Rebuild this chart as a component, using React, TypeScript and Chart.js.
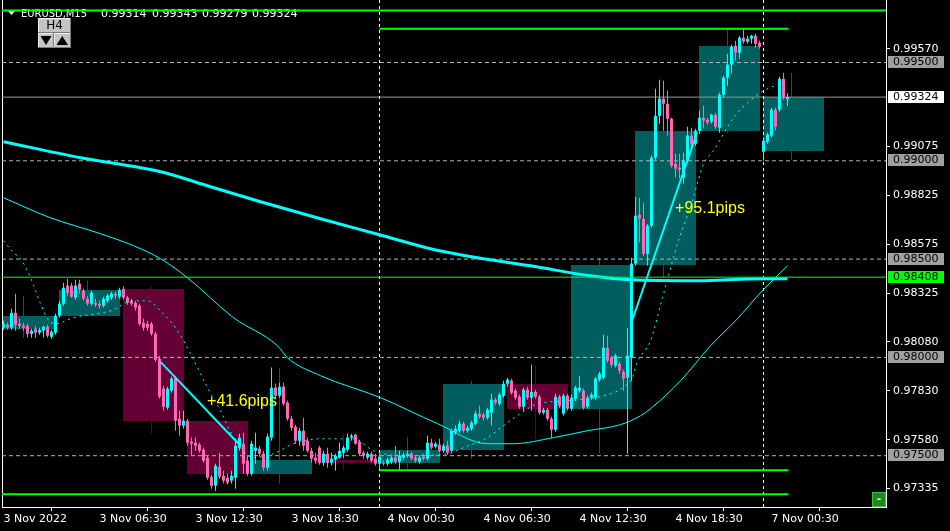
import React, { useEffect, useRef } from 'react';
import { Chart, registerables } from 'chart.js';

Chart.register(...registerables);

// ---------------- data ----------------
const titleSymbol = 'EURUSD,M15';
const titleOHLC = ['0.99314', '0.99343', '0.99279', '0.99324'];

const opens = [
  0.98151,0.98166,0.98151,0.98227,0.98171,0.98161,0.98161,0.98120,0.98146,0.98126,
  0.98136,0.98156,0.98105,0.98126,0.98212,0.98273,0.98365,0.98365,0.98304,0.98375,
  0.98339,0.98298,0.98273,0.98278,0.98273,0.98263,0.98288,0.98304,0.98324,0.98309,
  0.98349,0.98304,0.98288,0.98278,0.98263,0.98176,0.98171,0.98171,0.98120,0.97993,
  0.97841,0.97744,0.97831,0.97897,0.97688,0.97653,0.97678,0.97571,0.97566,0.97556,
  0.97531,0.97490,0.97393,0.97347,0.97444,0.97398,0.97388,0.97373,0.97388,0.97541,
  0.97561,0.97475,0.97408,0.97525,0.97536,0.97510,0.97439,0.97592,0.97846,0.97805,
  0.97851,0.97770,0.97688,0.97647,0.97576,0.97627,0.97576,0.97525,0.97490,0.97541,
  0.97464,0.97510,0.97464,0.97480,0.97490,0.97515,0.97531,0.97592,0.97607,0.97571,
  0.97515,0.97490,0.97510,0.97485,0.97459,0.97464,0.97459,0.97469,0.97490,0.97469,
  0.97490,0.97500,0.97510,0.97490,0.97469,0.97495,0.97485,0.97566,0.97546,0.97556,
  0.97525,0.97551,0.97525,0.97617,0.97627,0.97663,0.97627,0.97637,0.97663,0.97714,
  0.97709,0.97693,0.97719,0.97785,0.97764,0.97805,0.97866,0.97881,0.97831,0.97800,
  0.97749,0.97836,0.97795,0.97825,0.97800,0.97719,0.97734,0.97688,0.97632,0.97800,
  0.97714,0.97805,0.97739,0.97790,0.97831,0.97831,0.97749,0.97795,0.97795,0.97887,
  0.97897,0.98049,0.97998,0.97958,0.97968,0.97927,0.97897,0.97998,0.98477,0.98726,
  0.98705,0.98527,0.98670,0.99016,0.99229,0.99316,0.99290,0.99214,0.98985,0.98965,
  0.98914,0.99000,0.99128,0.99087,0.99153,0.99219,0.99209,0.99199,0.99234,0.99168,
  0.99336,0.99423,0.99489,0.99585,0.99550,0.99626,0.99606,0.99621,0.99636,0.99601,
  0.99046,0.99097,0.99128,0.99260,0.99260,0.99417,0.99314,
];
const highs = [
  0.98187,0.98176,0.98248,0.98324,0.98197,0.98176,0.98171,0.98146,0.98161,0.98151,
  0.98161,0.98166,0.98141,0.98222,0.98288,0.98380,0.98400,0.98380,0.98395,0.98395,
  0.98349,0.98314,0.98339,0.98298,0.98288,0.98309,0.98324,0.98334,0.98334,0.98354,
  0.98360,0.98314,0.98298,0.98288,0.98273,0.98197,0.98187,0.98181,0.98131,0.98009,
  0.97856,0.97851,0.97902,0.97907,0.97729,0.97729,0.97688,0.97592,0.97592,0.97566,
  0.97541,0.97500,0.97403,0.97459,0.97515,0.97424,0.97408,0.97424,0.97586,0.97612,
  0.97617,0.97500,0.97576,0.97617,0.97551,0.97525,0.97612,0.97948,0.97866,0.97871,
  0.97871,0.97780,0.97703,0.97658,0.97642,0.97693,0.97592,0.97541,0.97515,0.97551,
  0.97525,0.97541,0.97515,0.97510,0.97566,0.97551,0.97612,0.97612,0.97612,0.97581,
  0.97525,0.97520,0.97520,0.97510,0.97510,0.97475,0.97490,0.97500,0.97551,0.97525,
  0.97515,0.97525,0.97520,0.97500,0.97500,0.97510,0.97602,0.97586,0.97571,0.97586,
  0.97561,0.97576,0.97637,0.97653,0.97678,0.97673,0.97653,0.97678,0.97729,0.97754,
  0.97719,0.97744,0.97815,0.97795,0.97820,0.97881,0.97897,0.97892,0.97841,0.97810,
  0.97846,0.97851,0.97963,0.97836,0.97810,0.97744,0.97744,0.97698,0.97815,0.97810,
  0.97815,0.97815,0.97810,0.97856,0.97907,0.97841,0.97805,0.97820,0.97902,0.97927,
  0.98115,0.98110,0.98009,0.98019,0.97978,0.97937,0.98151,0.98507,0.98817,0.98812,
  0.98787,0.98680,0.99026,0.99367,0.99412,0.99407,0.99356,0.99219,0.99036,0.99036,
  0.99041,0.99173,0.99168,0.99163,0.99255,0.99280,0.99219,0.99239,0.99245,0.99346,
  0.99433,0.99545,0.99590,0.99611,0.99636,0.99672,0.99636,0.99641,0.99646,0.99611,
  0.99112,0.99143,0.99270,0.99270,0.99428,0.99448,0.99343,
];
const lows = [
  0.98141,0.98141,0.98141,0.98136,0.98146,0.98136,0.98100,0.98100,0.98100,0.98115,
  0.98100,0.98100,0.98095,0.98115,0.98202,0.98263,0.98314,0.98304,0.98293,0.98324,
  0.98288,0.98263,0.98263,0.98258,0.98248,0.98253,0.98278,0.98293,0.98298,0.98298,
  0.98293,0.98268,0.98263,0.98237,0.98161,0.98136,0.98136,0.98110,0.97978,0.97790,
  0.97729,0.97734,0.97820,0.97627,0.97602,0.97637,0.97551,0.97500,0.97525,0.97515,
  0.97464,0.97378,0.97332,0.97322,0.97383,0.97358,0.97352,0.97358,0.97332,0.97525,
  0.97408,0.97398,0.97398,0.97459,0.97495,0.97424,0.97424,0.97576,0.97790,0.97795,
  0.97754,0.97678,0.97627,0.97561,0.97551,0.97525,0.97515,0.97464,0.97459,0.97454,
  0.97449,0.97439,0.97449,0.97424,0.97485,0.97490,0.97520,0.97576,0.97556,0.97500,
  0.97485,0.97480,0.97464,0.97449,0.97434,0.97449,0.97449,0.97459,0.97459,0.97429,
  0.97480,0.97490,0.97475,0.97464,0.97459,0.97475,0.97475,0.97531,0.97536,0.97515,
  0.97515,0.97505,0.97515,0.97607,0.97617,0.97617,0.97617,0.97627,0.97653,0.97688,
  0.97678,0.97683,0.97653,0.97759,0.97754,0.97795,0.97851,0.97810,0.97785,0.97739,
  0.97729,0.97785,0.97729,0.97790,0.97709,0.97709,0.97678,0.97592,0.97622,0.97744,
  0.97703,0.97729,0.97729,0.97780,0.97820,0.97734,0.97739,0.97785,0.97785,0.97876,
  0.97887,0.97973,0.97948,0.97948,0.97917,0.97831,0.97510,0.97881,0.98466,0.98583,
  0.98517,0.98466,0.98660,0.99005,0.99189,0.99153,0.99128,0.98965,0.98914,0.98909,
  0.98883,0.98990,0.99067,0.99077,0.99138,0.99168,0.99183,0.99189,0.99163,0.99143,
  0.99321,0.99382,0.99443,0.99509,0.99519,0.99595,0.99595,0.99595,0.99575,0.99570,
  0.99000,0.99087,0.99117,0.99153,0.99250,0.99311,0.99279,
];
const closes = [
  0.98171,0.98151,0.98227,0.98166,0.98161,0.98151,0.98120,0.98136,0.98126,0.98141,
  0.98156,0.98110,0.98131,0.98212,0.98273,0.98354,0.98329,0.98309,0.98365,0.98344,
  0.98298,0.98273,0.98329,0.98268,0.98263,0.98298,0.98314,0.98324,0.98314,0.98344,
  0.98304,0.98278,0.98273,0.98253,0.98171,0.98151,0.98151,0.98120,0.97988,0.97800,
  0.97749,0.97841,0.97892,0.97678,0.97653,0.97678,0.97566,0.97561,0.97551,0.97525,
  0.97475,0.97388,0.97347,0.97449,0.97393,0.97373,0.97363,0.97398,0.97551,0.97592,
  0.97459,0.97408,0.97561,0.97541,0.97510,0.97439,0.97597,0.97846,0.97805,0.97851,
  0.97764,0.97688,0.97642,0.97576,0.97627,0.97551,0.97525,0.97485,0.97475,0.97464,
  0.97510,0.97464,0.97485,0.97500,0.97525,0.97541,0.97592,0.97602,0.97561,0.97510,
  0.97500,0.97510,0.97475,0.97459,0.97495,0.97459,0.97480,0.97490,0.97469,0.97500,
  0.97505,0.97510,0.97485,0.97475,0.97490,0.97485,0.97566,0.97541,0.97561,0.97525,
  0.97551,0.97515,0.97627,0.97637,0.97663,0.97627,0.97642,0.97668,0.97714,0.97698,
  0.97693,0.97734,0.97785,0.97770,0.97810,0.97866,0.97887,0.97820,0.97795,0.97749,
  0.97836,0.97795,0.97825,0.97800,0.97719,0.97734,0.97688,0.97632,0.97800,0.97754,
  0.97805,0.97739,0.97795,0.97846,0.97846,0.97744,0.97795,0.97810,0.97892,0.97917,
  0.98049,0.97983,0.97963,0.98009,0.97932,0.97892,0.98009,0.98477,0.98721,0.98705,
  0.98527,0.98670,0.99016,0.99229,0.99316,0.99290,0.99214,0.98975,0.98960,0.98955,
  0.99000,0.99128,0.99087,0.99153,0.99219,0.99204,0.99194,0.99234,0.99173,0.99336,
  0.99423,0.99489,0.99580,0.99550,0.99626,0.99606,0.99621,0.99636,0.99595,0.99580,
  0.99102,0.99133,0.99260,0.99173,0.99417,0.99321,0.99324,
];

const timeTickBars = [0, 24, 48, 72, 96, 120, 144, 168, 192];
const timeTickLabels = ['3 Nov 2022', '3 Nov 06:30', '3 Nov 12:30', '3 Nov 18:30', '4 Nov 00:30', '4 Nov 06:30', '4 Nov 12:30', '4 Nov 18:30', '7 Nov 00:30'];
const priceTicks = [0.9957, 0.99075, 0.98825, 0.98575, 0.98325, 0.9808, 0.9783, 0.9758, 0.97335];

const roundLevels = [0.995, 0.99, 0.985, 0.98, 0.975];
const bidPrice = 0.99324;
const keyLevel = 0.98408;
const daySeparatorBars = [94, 190];

const h4StartBars = [0, 14, 30, 46, 62, 78, 94, 110, 126, 142, 158, 174, 190];
const h4EndBars = [13, 29, 45, 61, 77, 93, 109, 125, 141, 157, 173, 189, 205];
const h4WickBars = [5, 21, 37, 53, 69, 85, 101, 117, 133, 149, 165, 181, 197];
const h4Open = [0.98146, 0.98212, 0.98349, 0.97678, 0.97408, 0.9748, 0.97464, 0.97531, 0.97866, 0.97739, 0.98471, 0.99153, 0.99051];
const h4Close = [0.98212, 0.98344, 0.97678, 0.97408, 0.9748, 0.97464, 0.97531, 0.97866, 0.97739, 0.98471, 0.99153, 0.99585, 0.99324];
const h4High = [0.98314, 0.9839, 0.9836, 0.97688, 0.97948, 0.97612, 0.97597, 0.97881, 0.97958, 0.98507, 0.99407, 0.99672, 0.99448];
const h4Low = [0.981, 0.98212, 0.97612, 0.97312, 0.97358, 0.97424, 0.97434, 0.97485, 0.97586, 0.9751, 0.98405, 0.99143, 0.99005];

const maSlowBars = [0, 19.25, 39.25, 51.75, 64.25, 79.25, 94, 106.75, 118.5, 131.75, 146.75, 156.75, 174.25, 184.25, 196];
const maSlowVals = [0.99097, 0.99016, 0.98944, 0.98868, 0.98792, 0.98705, 0.98624, 0.98553, 0.98507, 0.98466, 0.98415, 0.98395, 0.9839, 0.98398, 0.984];

const maMidBars = [0, 11.75, 24.25, 32.5, 39.25, 46, 57.5, 68.5, 71, 79.25, 94.25, 108.5, 121, 127.5, 137.5, 146, 154.25, 159.25, 161.75, 169.25, 176.75, 183.5, 189.25, 196];
const maMidVals = [0.98812, 0.9871, 0.98629, 0.98568, 0.98502, 0.98405, 0.98202, 0.98059, 0.97998, 0.97907, 0.97795, 0.97663, 0.97561, 0.97561, 0.97592, 0.97627, 0.97658, 0.97703, 0.97739, 0.97881, 0.98059, 0.98197, 0.98329, 0.98466];

const maFastBars = [0, 2.5, 4.25, 6.75, 9.25, 11, 13, 17.5, 26.75, 32.5, 36, 39.25, 43.5, 46.75, 51, 54.25, 57.5, 62.5, 67.5, 72.5, 79.25, 87.5, 92.5, 100, 111, 115, 121, 124.25, 129.25, 133.5, 141.75, 152.5, 155.5, 157.25, 158.25, 161.75, 164.75, 168.75, 172.25, 175, 177.5, 182.5, 187.5, 190, 194.75];
const maFastVals = [0.98594, 0.98532, 0.98502, 0.98405, 0.98273, 0.98197, 0.98171, 0.98202, 0.98237, 0.98288, 0.98288, 0.98237, 0.98136, 0.98019, 0.97846, 0.97729, 0.97592, 0.9749, 0.9751, 0.97561, 0.97586, 0.97586, 0.97525, 0.975, 0.9751, 0.97541, 0.97592, 0.97642, 0.97714, 0.97764, 0.9778, 0.9782, 0.97856, 0.97897, 0.97968, 0.98085, 0.98304, 0.98594, 0.98798, 0.98985, 0.99051, 0.99219, 0.99321, 0.99356, 0.99397];

const pipFromBars = [39.25, 157.25];
const pipFromVals = [0.97977, 0.98193];
const pipToBars = [58.75, 173.4];
const pipToVals = [0.97561, 0.99144];
const pipLabels = ['+41.6pips', '+95.1pips'];
const pipLabelBars = [50.9, 167.9];
const pipLabelVals = [0.97751, 0.98732];

const greenLevels = [0.99765, 0.99672, 0.97426, 0.97304];
const greenFromBars = [-0.375, 94, 94, -0.375];
const greenToBars = [220.625, 196.25, 196.25, 196.25];

// ---------------- styling / layout ----------------
const CYAN = '#00FFFF';
const PINK = '#FF69B4';
const TEAL = '#005E5E';
const MAROON = '#640034';
const LIME = '#00FF00';
const FONT = '"DejaVu Sans", "Liberation Sans", sans-serif';
const PX_PER_UNIT = 19660;
const X_MIN = -0.375;
const X_MAX = 220.625;
const Y_MAX = 0.995 + 62.5 / PX_PER_UNIT;
const Y_MIN = Y_MAX - 507 / PX_PER_UNIT;

const candleColors = opens.map((o, i) => (closes[i] >= o ? CYAN : PINK));

const hLine = (price: number, from: number, to: number, color: string, width: number, dash: number[], order: number) => ({
  type: 'line',
  data: [{ x: from, y: price }, { x: to, y: price }],
  borderColor: color,
  borderWidth: width,
  borderDash: dash,
  pointRadius: 0,
  tension: 0,
  order,
});

const seriesLine = (bars: number[], vals: number[], color: string, width: number, dash: number[], order: number) => ({
  type: 'line',
  data: bars.map((b, i) => ({ x: b, y: vals[i] })),
  borderColor: color,
  borderWidth: width,
  borderDash: dash,
  pointRadius: 0,
  cubicInterpolationMode: 'monotone',
  order,
});

const overlayPlugin = {
  id: 'mtOverlay',
  beforeDatasetsDraw(chart: any) {
    const { ctx, chartArea: a, scales } = chart;
    const x = scales.x;
    const y = scales.y;
    ctx.save();
    ctx.strokeStyle = '#FFFFFF';
    ctx.lineWidth = 1;
    ctx.beginPath();
    ctx.moveTo(a.left + 0.5, a.top);
    ctx.lineTo(a.left + 0.5, a.bottom);
    ctx.stroke();
    ctx.beginPath();
    ctx.rect(a.left + 1, a.top, a.width - 1, a.height);
    ctx.clip();
    for (let k = 0; k < h4Open.length; k++) {
      const bull = h4Close[k] >= h4Open[k];
      const col = bull ? TEAL : MAROON;
      const wx = Math.floor(x.getPixelForValue(h4WickBars[k])) + 0.5;
      ctx.strokeStyle = col;
      ctx.lineWidth = 1;
      ctx.beginPath();
      ctx.moveTo(wx, y.getPixelForValue(h4High[k]));
      ctx.lineTo(wx, y.getPixelForValue(h4Low[k]));
      ctx.stroke();
      const x0 = Math.floor(x.getPixelForValue(h4StartBars[k]));
      const x1 = Math.floor(x.getPixelForValue(h4EndBars[k])) + 1;
      const yt = Math.round(y.getPixelForValue(Math.max(h4Open[k], h4Close[k])));
      const yb = Math.round(y.getPixelForValue(Math.min(h4Open[k], h4Close[k])));
      ctx.fillStyle = col;
      ctx.fillRect(x0, yt, x1 - x0, Math.max(1, yb - yt));
    }
    ctx.restore();

    // title line
    ctx.save();
    ctx.fillStyle = '#FFFFFF';
    ctx.beginPath();
    ctx.moveTo(8, 11);
    ctx.lineTo(15, 11);
    ctx.lineTo(11.5, 15);
    ctx.closePath();
    ctx.fill();
    ctx.font = '11px ' + FONT;
    ctx.textAlign = 'left';
    ctx.textBaseline = 'alphabetic';
    ctx.fillText(titleSymbol, 21, 17, 66);
    const ox = [101, 152, 202, 252];
    titleOHLC.forEach((t, i) => ctx.fillText(t, ox[i], 17));
    ctx.restore();
  },
  afterDatasetsDraw(chart: any) {
    const { ctx, scales } = chart;
    ctx.save();
    ctx.fillStyle = '#FFFF00';
    ctx.font = '16px "Liberation Sans", Arial, sans-serif';
    ctx.textAlign = 'left';
    ctx.textBaseline = 'alphabetic';
    pipLabels.forEach((t, i) => {
      ctx.fillText(t, scales.x.getPixelForValue(pipLabelBars[i]), scales.y.getPixelForValue(pipLabelVals[i]));
    });
    ctx.restore();
  },
  afterDraw(chart: any) {
    const { ctx, chartArea: a, scales } = chart;
    const y = scales.y;
    const box = (price: number, bg: string, fg: string) => {
      const py = Math.floor(y.getPixelForValue(price));
      ctx.fillStyle = bg;
      ctx.fillRect(a.right + 2, py - 6, 56, 12);
      ctx.fillStyle = fg;
      ctx.font = '11px ' + FONT;
      ctx.textAlign = 'left';
      ctx.textBaseline = 'middle';
      ctx.fillText(price.toFixed(5), a.right + 7, py + 0.5);
    };
    ctx.save();
    roundLevels.forEach((p) => box(p, '#A0A0A0', '#000000'));
    box(bidPrice, '#FFFFFF', '#000000');
    box(keyLevel, LIME, '#000000');

    // H4 button
    const bevel = (x0: number, y0: number, w: number, h: number) => {
      ctx.fillStyle = '#C4C4C4';
      ctx.fillRect(x0, y0, w, h);
      ctx.strokeStyle = '#F0F0F0';
      ctx.lineWidth = 1;
      ctx.beginPath();
      ctx.moveTo(x0 + 0.5, y0 + h);
      ctx.lineTo(x0 + 0.5, y0 + 0.5);
      ctx.lineTo(x0 + w, y0 + 0.5);
      ctx.stroke();
      ctx.strokeStyle = '#7A7A7A';
      ctx.beginPath();
      ctx.moveTo(x0 + w - 0.5, y0);
      ctx.lineTo(x0 + w - 0.5, y0 + h - 0.5);
      ctx.lineTo(x0, y0 + h - 0.5);
      ctx.stroke();
    };
    bevel(38, 18, 33, 15);
    ctx.fillStyle = '#000000';
    ctx.font = '12px ' + FONT;
    ctx.textAlign = 'center';
    ctx.textBaseline = 'middle';
    ctx.fillText('H4', 54.5, 25.5);
    bevel(38, 33, 16, 15);
    bevel(54, 33, 17, 15);
    ctx.fillStyle = '#000000';
    ctx.beginPath();
    ctx.moveTo(40.5, 36);
    ctx.lineTo(51.5, 36);
    ctx.lineTo(46, 45);
    ctx.closePath();
    ctx.fill();
    ctx.beginPath();
    ctx.moveTo(56.5, 45);
    ctx.lineTo(68, 45);
    ctx.lineTo(62.25, 36);
    ctx.closePath();
    ctx.fill();

    // small green button bottom-right
    ctx.fillStyle = '#1A8A1A';
    ctx.fillRect(a.right - 14, a.bottom - 15, 14, 15);
    ctx.strokeStyle = '#3CC03C';
    ctx.strokeRect(a.right - 13.5, a.bottom - 14.5, 13, 14);
    ctx.fillStyle = '#FFFFFF';
    ctx.font = 'bold 10px ' + FONT;
    ctx.textAlign = 'center';
    ctx.textBaseline = 'middle';
    ctx.fillText('-', a.right - 7, a.bottom - 8);
    ctx.restore();
  },
};

export default function App() {
  const ref = useRef<HTMLCanvasElement | null>(null);
  useEffect(() => {
    document.body.style.margin = '0';
    document.body.style.background = '#000';
    const canvas = ref.current;
    if (!canvas) return;
    Chart.defaults.font.family = FONT;
    Chart.defaults.font.size = 11;
    Chart.defaults.color = '#FFFFFF';

    const datasets: any[] = [];
    roundLevels.forEach((p) => datasets.push(hLine(p, X_MIN, X_MAX, '#B4B4B4', 1, [4, 3], 60)));
    datasets.push(hLine(bidPrice, X_MIN, X_MAX, '#969696', 1, [], 59));
    daySeparatorBars.forEach((b) =>
      datasets.push({
        type: 'line',
        data: [{ x: b, y: Y_MIN }, { x: b, y: Y_MAX }],
        borderColor: '#FFFFFF',
        borderWidth: 1,
        borderDash: [3, 3],
        pointRadius: 0,
        order: 58,
      })
    );
    datasets.push({
      type: 'bar',
      data: opens.map((_, i) => ({ x: i, y: [lows[i], highs[i]] })),
      backgroundColor: candleColors,
      barThickness: 1,
      grouped: false,
      inflateAmount: 0,
      borderWidth: 0,
      minBarLength: 1,
      order: 50,
    });
    datasets.push({
      type: 'bar',
      data: opens.map((o, i) => ({ x: i, y: [o, closes[i]] })),
      backgroundColor: candleColors,
      barThickness: 3,
      grouped: false,
      inflateAmount: 0,
      borderWidth: 0,
      minBarLength: 1,
      order: 49,
    });
    datasets.push(seriesLine(maSlowBars, maSlowVals, CYAN, 3, [], 40));
    datasets.push(seriesLine(maMidBars, maMidVals, CYAN, 1, [], 39));
    datasets.push(seriesLine(maFastBars, maFastVals, CYAN, 1, [2, 4], 38));
    pipFromBars.forEach((b, i) =>
      datasets.push({
        type: 'line',
        data: [{ x: b, y: pipFromVals[i] }, { x: pipToBars[i], y: pipToVals[i] }],
        borderColor: CYAN,
        borderWidth: 2,
        pointRadius: 0,
        order: 30,
      })
    );
    datasets.push(hLine(keyLevel, X_MIN, X_MAX, LIME, 1, [], 21));
    greenLevels.forEach((p, i) => datasets.push(hLine(p, greenFromBars[i], greenToBars[i], LIME, 2, [], 20)));

    const chart = new Chart(canvas, {
      type: 'line',
      data: { datasets },
      plugins: [overlayPlugin],
      options: {
        animation: false,
        responsive: false,
        maintainAspectRatio: false,
        devicePixelRatio: 1,
        events: [],
        layout: { padding: { left: 2, top: 0, right: 0, bottom: 0 }, autoPadding: false },
        plugins: { legend: { display: false }, tooltip: { enabled: false }, title: { display: false } },
        scales: {
          x: {
            type: 'linear',
            min: X_MIN,
            max: X_MAX,
            offset: false,
            position: 'bottom',
            grid: { display: true, drawOnChartArea: false, drawTicks: true, tickLength: 4, color: '#FFFFFF' },
            border: { display: true, color: '#FFFFFF', width: 1 },
            ticks: {
              autoSkip: false,
              maxRotation: 0,
              minRotation: 0,
              align: 'start',
              padding: 2,
              color: '#FFFFFF',
              font: { size: 11, family: FONT },
              callback: (_v: any, idx: number) => timeTickLabels[idx],
            },
            afterBuildTicks: (s: any) => {
              s.ticks = timeTickBars.map((v) => ({ value: v }));
            },
            afterFit: (s: any) => {
              s.height = 24;
              s.paddingLeft = 0;
              s.paddingRight = 0;
            },
          },
          y: {
            type: 'linear',
            position: 'right',
            min: Y_MIN,
            max: Y_MAX,
            grid: { display: true, drawOnChartArea: false, drawTicks: true, tickLength: 4, color: '#FFFFFF' },
            border: { display: true, color: '#FFFFFF', width: 1 },
            ticks: {
              autoSkip: false,
              padding: 3,
              color: '#FFFFFF',
              font: { size: 11, family: FONT },
              callback: (v: any) => Number(v).toFixed(5),
            },
            afterBuildTicks: (s: any) => {
              s.ticks = priceTicks.map((v) => ({ value: v }));
            },
            afterFit: (s: any) => {
              s.width = 64;
              s.paddingTop = 0;
              s.paddingBottom = 0;
            },
          },
        },
      } as any,
    } as any);
    return () => chart.destroy();
  }, []);
  return (
    <div style={{ width: 950, height: 531, background: '#000', overflow: 'hidden' }}>
      <canvas ref={ref} width={950} height={531} style={{ display: 'block' }} />
    </div>
  );
}
